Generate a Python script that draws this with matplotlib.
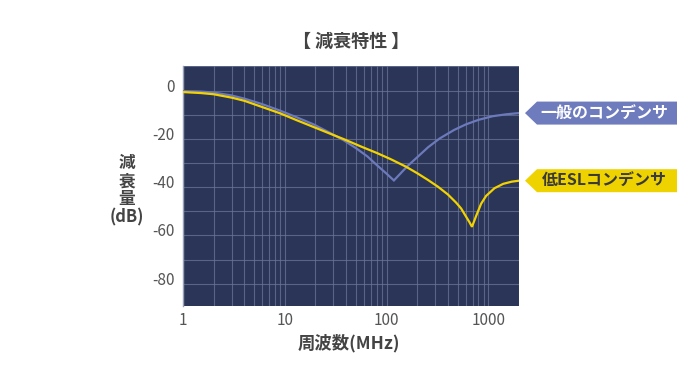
import matplotlib
matplotlib.use("Agg")
import matplotlib.pyplot as plt
from matplotlib.patches import Polygon
from matplotlib.transforms import ScaledTranslation
import numpy as np

plt.rcParams['font.family'] = ['Noto Sans CJK JP', 'DejaVu Sans']

# ---- data ----
freq_general = [1, 1.5, 2, 3, 4, 6, 9, 13, 19, 27, 38, 50, 65, 80, 100, 118,
                135, 160, 200, 255, 330, 460, 600, 800, 1100, 1500, 2000]
att_general = [-0.2, -0.4, -0.8, -2.0, -3.3, -5.6, -8.3, -11.0, -13.9, -17.2, -20.6,
               -23.8, -27.3, -30.8, -34.4, -37.2,
               -34.6, -31.3, -27.6, -23.5, -19.9, -16.3, -14.0, -12.1, -10.6, -9.8, -9.3]

freq_lowesl = [1, 1.5, 2, 3, 4, 6, 9, 13, 19, 27, 38, 55, 80, 110, 155, 200, 255,
               320, 400, 480, 540, 600, 650, 690, 720, 760, 850, 950, 1150, 1400, 1700, 2000]
att_lowesl = [-0.6, -1.0, -1.5, -2.9, -4.2, -6.8, -9.4, -12.2, -15.0, -17.6, -20.1,
              -23.0, -25.8, -28.4, -31.5, -34.2, -37.0, -39.8, -43.0, -46.3, -48.8,
              -52.0, -54.4, -56.4, -54.4, -51.8, -46.8, -43.6, -40.4, -38.6, -37.7, -37.3]

series_labels = ['一般のコンデンサ', '低ESLコンデンサ']
x_ticks = [1, 10, 100, 1000]
x_ticklabels = ['1', '10', '100', '1000']
y_ticks = [0, -20, -40, -60, -80]
y_ticklabels = ['0', '-20', '-40', '-60', '-80']
title = '【 減衰特性 】'
x_label = '周波数(MHz)'
y_label = '減\n衰\n量\n(dB)'

# ---- style ----
W, H = 700, 380
BG = '#2b3557'
GRID = '#6b7596'
BLUE = '#6c79bb'
YELLOW = '#f2d200'
TXT = '#444444'

fig = plt.figure(figsize=(W / 100, H / 100), dpi=100)
ax = fig.add_axes([183 / W, 1 - 306 / H, 336 / W, 240 / H])
ax.set_facecolor(BG)
ax.set_xscale('log')
ax.set_xlim(1, 2000)
ax.set_ylim(-89.2, 10.2)

# grid
ax.set_xticks(x_ticks)
ax.set_xticklabels(x_ticklabels)
ax.xaxis.set_minor_locator(matplotlib.ticker.LogLocator(base=10, subs=np.arange(2, 10)))
ax.xaxis.set_minor_formatter(matplotlib.ticker.NullFormatter())
ax.set_yticks(y_ticks)
ax.set_yticklabels(y_ticklabels)
ax.yaxis.set_minor_locator(matplotlib.ticker.MultipleLocator(10))
ax.grid(True, which='both', color=GRID, linewidth=0.8, alpha=0.75)
ax.set_axisbelow(True)

ax.tick_params(axis='both', which='both', length=0, labelsize=11, labelcolor='#555555')
ax.tick_params(axis='y', pad=6)
ax.tick_params(axis='x', pad=4)
for lab in ax.get_yticklabels():
    lab.set_transform(lab.get_transform() + ScaledTranslation(0, 0.055, fig.dpi_scale_trans))

for s in ['top', 'right', 'bottom']:
    ax.spines[s].set_visible(False)
ax.spines['left'].set_color('#9aa0b8')
ax.spines['left'].set_linewidth(1.0)

ax.plot(freq_general, att_general, color=BLUE, linewidth=1.6, solid_joinstyle='miter', zorder=3)
ax.plot(freq_lowesl, att_lowesl, color=YELLOW, linewidth=1.6, solid_joinstyle='miter', zorder=4)

# titles
fig.text(351 / W, 1 - 41 / H, title, ha='center', va='center', fontsize=13,
         fontweight='bold', color=TXT)
fig.text(349 / W, 1 - 343 / H, x_label, ha='center', va='center', fontsize=12.5,
         fontweight='bold', color=TXT)
fig.text(127 / W, 1 - 190 / H, y_label, ha='center', va='center', fontsize=12,
         fontweight='bold', color=TXT, linespacing=1.0)

# arrow labels pointing to curve ends
def arrow_label(y_end, text, face, tcolor):
    _, ypix = ax.transData.transform((freq_general[-1], y_end))
    yc = H - ypix  # pixel from top
    x_tip, x_sh, x_r, hh = 525, 537, 677, 11.5
    pts = [(x_tip, yc), (x_sh, yc - hh), (x_r, yc - hh), (x_r, yc + hh), (x_sh, yc + hh)]
    pts = [(px / W, 1 - py / H) for px, py in pts]
    fig.patches.append(Polygon(pts, closed=True, facecolor=face, edgecolor='none',
                               transform=fig.transFigure, figure=fig))
    fig.text(604 / W, 1 - (yc + 0.5) / H, text, ha='center', va='center', fontsize=11.5,
             fontweight='bold', color=tcolor)

arrow_label(att_general[-1], series_labels[0], '#6e7bbd', 'white')
arrow_label(att_lowesl[-1], series_labels[1], '#efd300', '#3a3a3a')

fig.savefig('out.png', dpi=100, facecolor='white')
